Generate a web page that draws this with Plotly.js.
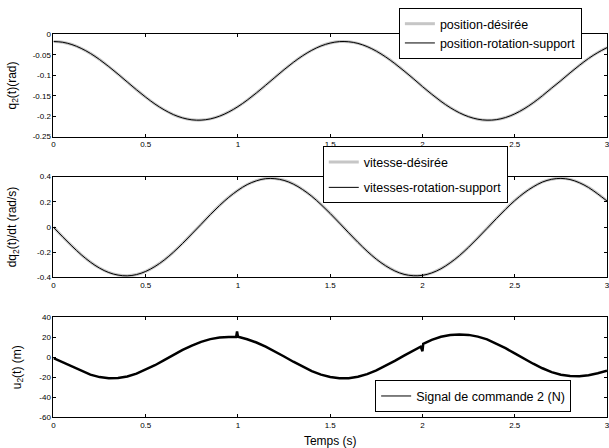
<!DOCTYPE html>
<html><head><meta charset="utf-8">
<script src="https://cdn.plot.ly/plotly-3.0.1.min.js"></script>
<style>html,body{margin:0;padding:0;background:#fff}#plot{width:609px;height:448px}</style>
</head><body><div id="plot"></div>
<script>
var t = [0,0.05,0.1,0.15,0.2,0.25,0.3,0.35,0.4,0.45,0.5,0.55,0.6,0.65,0.7,0.75,0.8,0.85,0.9,0.95,1,1.05,1.1,1.15,1.2,1.25,1.3,1.35,1.4,1.45,1.5,1.55,1.6,1.65,1.7,1.75,1.8,1.85,1.9,1.95,2,2.05,2.1,2.15,2.2,2.25,2.3,2.35,2.4,2.45,2.5,2.55,2.6,2.65,2.7,2.75,2.8,2.85,2.9,2.95,3];
var qDesired = [-0.0170,-0.0189,-0.0246,-0.0339,-0.0462,-0.0614,-0.0786,-0.0971,-0.1163,-0.1354,-0.1536,-0.1703,-0.1846,-0.1962,-0.2044,-0.2090,-0.2098,-0.2068,-0.2001,-0.1898,-0.1766,-0.1608,-0.1431,-0.1243,-0.1051,-0.0861,-0.0682,-0.0522,-0.0386,-0.0280,-0.0209,-0.0173,-0.0177,-0.0217,-0.0295,-0.0407,-0.0548,-0.0711,-0.0891,-0.1079,-0.1276,-0.1462,-0.1637,-0.1791,-0.1918,-0.2014,-0.2075,-0.2099,-0.2086,-0.2034,-0.1945,-0.1823,-0.1673,-0.1500,-0.1313,-0.1131,-0.0939,-0.0757,-0.0587,-0.0443,-0.0321];
var qActual = [-0.0172,-0.0190,-0.0247,-0.0340,-0.0463,-0.0615,-0.0787,-0.0972,-0.1164,-0.1355,-0.1537,-0.1704,-0.1847,-0.1963,-0.2045,-0.2091,-0.2099,-0.2069,-0.2002,-0.1899,-0.1767,-0.1609,-0.1432,-0.1244,-0.1052,-0.0862,-0.0683,-0.0523,-0.0387,-0.0281,-0.0210,-0.0174,-0.0178,-0.0218,-0.0296,-0.0408,-0.0549,-0.0712,-0.0892,-0.1080,-0.1277,-0.1463,-0.1638,-0.1792,-0.1919,-0.2015,-0.2076,-0.2100,-0.2087,-0.2035,-0.1946,-0.1824,-0.1674,-0.1501,-0.1314,-0.1132,-0.0940,-0.0758,-0.0588,-0.0444,-0.0322];
var vDesired = [0,-0.077,-0.150,-0.218,-0.277,-0.325,-0.360,-0.380,-0.386,-0.376,-0.351,-0.312,-0.261,-0.199,-0.129,-0.054,0.022,0.099,0.171,0.236,0.292,0.337,0.367,0.384,0.384,0.370,0.341,0.298,0.244,0.179,0.108,0.032,-0.045,-0.120,-0.191,-0.254,-0.306,-0.347,-0.374,-0.385,-0.382,-0.363,-0.330,-0.283,-0.226,-0.159,-0.086,-0.010,0.067,0.141,0.210,0.270,0.319,0.357,0.379,0.386,0.377,0.352,0.314,0.263,0.207];
var vActual = [-0.002,-0.078,-0.151,-0.219,-0.278,-0.326,-0.361,-0.381,-0.387,-0.377,-0.352,-0.313,-0.262,-0.200,-0.130,-0.055,0.021,0.098,0.170,0.235,0.291,0.336,0.366,0.383,0.383,0.369,0.340,0.297,0.243,0.178,0.107,0.031,-0.046,-0.121,-0.192,-0.255,-0.307,-0.348,-0.375,-0.386,-0.383,-0.364,-0.331,-0.284,-0.227,-0.160,-0.087,-0.011,0.066,0.140,0.209,0.269,0.318,0.356,0.378,0.385,0.376,0.351,0.313,0.262,0.206];
var tU = [0,0.05,0.1,0.15,0.2,0.25,0.3,0.35,0.4,0.45,0.5,0.55,0.6,0.65,0.7,0.75,0.8,0.85,0.9,0.95,0.99,0.995,1,1.05,1.1,1.15,1.2,1.25,1.3,1.35,1.4,1.45,1.5,1.55,1.6,1.65,1.7,1.75,1.8,1.85,1.9,1.95,1.99,2,2.004,2.05,2.1,2.15,2.2,2.25,2.3,2.35,2.4,2.45,2.5,2.55,2.6,2.65,2.7,2.75,2.8,2.85,2.9,2.95,3];
var uCmd = [-1,-5.1,-9.8,-14.0,-17.4,-19.8,-20.9,-20.8,-19.2,-16.3,-12.5,-8.0,-3.0,2.2,7.2,11.6,15.3,18.0,19.6,20.2,20.2,25.5,20.3,17.8,14.6,10.5,5.8,0.7,-4.5,-9.4,-13.8,-17.3,-19.7,-20.9,-20.9,-19.5,-16.8,-13.1,-8.6,-3.7,1.5,6.6,10.5,6.0,13.3,17.3,20.3,22.0,22.6,22.2,20.5,17.8,13.8,9.0,3.8,-1.5,-6.5,-11.0,-14.8,-17.5,-18.8,-18.9,-17.9,-16.0,-13.5];
var xTicks = [0,0.5,1,1.5,2,2.5,3];
var xTickText = ["0","0.5","1","1.5","2","2.5","3"];
var y1Ticks = [-0.25,-0.2,-0.15,-0.1,-0.05,0];
var y1TickText = ["-0.25","-0.2","-0.15","-0.1","-0.05","0"];
var y2Ticks = [-0.4,-0.2,0,0.2,0.4];
var y2TickText = ["-0.4","-0.2","0","0.2","0.4"];
var y3Ticks = [-60,-40,-20,0,20,40];
var y3TickText = ["-60","-40","-20","0","20","40"];

var FONT = "Liberation Sans, Arial, sans-serif";
var traces = [
  {x:t, y:qDesired, xaxis:'x', yaxis:'y', name:'position-désirée', mode:'lines', line:{color:'#c6c6c6', width:3, shape:'spline'}, legend:'legend', legendgroup:'a1'},
  {x:t, y:qActual, xaxis:'x', yaxis:'y', name:'position-rotation-support', mode:'lines', line:{color:'#000', width:1, shape:'spline'}, legend:'legend', legendgroup:'a2'},
  {x:t, y:vDesired, xaxis:'x2', yaxis:'y2', name:'vitesse-désirée', mode:'lines', line:{color:'#c6c6c6', width:3, shape:'spline'}, legend:'legend2', legendgroup:'b1'},
  {x:t, y:vActual, xaxis:'x2', yaxis:'y2', name:'vitesses-rotation-support', mode:'lines', line:{color:'#000', width:1, shape:'spline'}, legend:'legend2', legendgroup:'b2'},
  {x:tU, y:uCmd, xaxis:'x3', yaxis:'y3', name:'Signal de commande 2 (N)', mode:'lines', line:{color:'#000', width:2.5}, showlegend:false},
  {x:[null], y:[null], xaxis:'x3', yaxis:'y3', name:'Signal de commande 2 (N)', mode:'lines', line:{color:'#000', width:1}, legend:'legend3', legendgroup:'c1'}
];
function xa(anchor){
  return {domain:[0.0878,0.9967], range:[0,3], anchor:anchor, tickvals:xTicks, ticktext:xTickText,
    ticks:'inside', ticklen:3, tickcolor:'#000', showline:true, linecolor:'#000', linewidth:1, mirror:'ticks',
    showgrid:false, zeroline:false, tickfont:{family:FONT, size:8, color:'#000'}, automargin:false,
    ticklabeloverflow:'allow'};
}
function ya(anchor, dom, rng, tv, tt, title, so){
  return {domain:dom, range:rng, anchor:anchor, tickvals:tv, ticktext:tt,
    ticks:'inside', ticklen:3, tickcolor:'#000', showline:true, linecolor:'#000', linewidth:1, mirror:'ticks',
    showgrid:false, zeroline:false, tickfont:{family:FONT, size:8, color:'#000'}, automargin:false,
    ticklabeloverflow:'allow',
    title:{text:title, font:{family:FONT, size:12, color:'#000'}, standoff:so}};
}
var x3 = xa('y3');
x3.title = {text:'Temps (s)', font:{family:FONT, size:12, color:'#000'}, standoff:7};
var legStyle = function(x, y, gap){
  return {x:x, y:y, xanchor:'left', yanchor:'top', bgcolor:'#fff', bordercolor:'#000', borderwidth:1,
    font:{family:FONT, size:12.5, color:'#000'}, traceorder:'grouped', tracegroupgap:gap, itemwidth:30};
};
var layout = {
  width:609, height:448, margin:{l:0, r:0, t:0, b:0}, paper_bgcolor:'#fff', plot_bgcolor:'#fff',
  showlegend:true,
  xaxis:xa('y'), xaxis2:xa('y2'), xaxis3:x3,
  yaxis:ya('x', [0.6953,0.923], [-0.25,0], y1Ticks, y1TickText, 'q<sub>2</sub>(t)(rad)', 13),
  yaxis2:ya('x2', [0.3806,0.606], [-0.4,0.4], y2Ticks, y2TickText, 'dq<sub>2</sub>(t)/dt (rad/s)', 17),
  yaxis3:ya('x3', [0.0681,0.2924], [-60,40], y3Ticks, y3TickText, 'u<sub>2</sub>(t) (m)', 15),
  legend:legStyle(0.655, 0.982, 0),
  legend2:legStyle(0.530, 0.673, 6),
  legend3:legStyle(0.616, 0.151, 0)
};
Plotly.newPlot('plot', traces, layout, {displayModeBar:false, staticPlot:true});
</script></body></html>
